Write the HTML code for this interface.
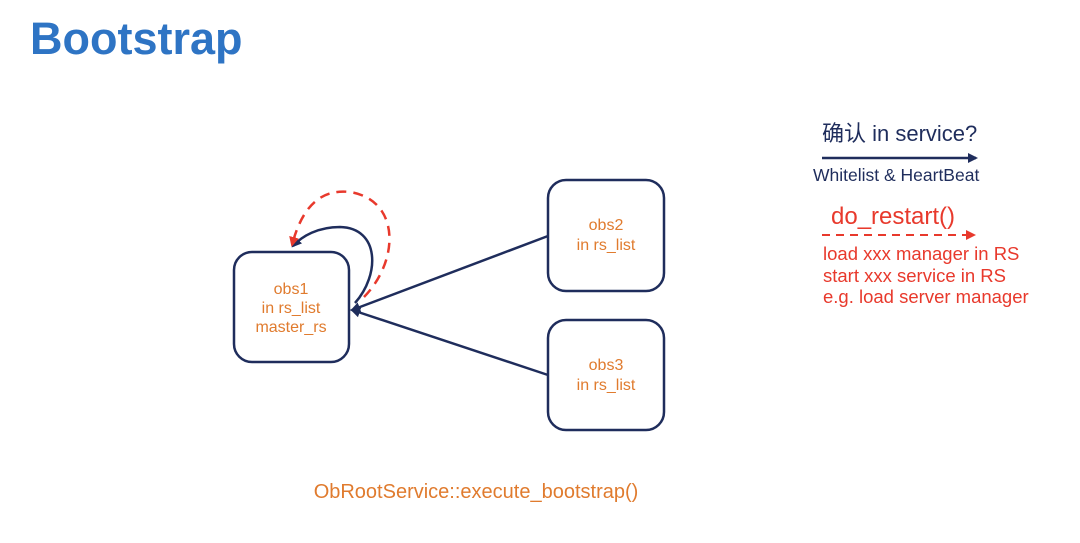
<!DOCTYPE html>
<html><head><meta charset="utf-8"><style>
body{margin:0;width:1080px;height:538px;background:#fff;overflow:hidden;font-family:"Liberation Sans","Noto Sans CJK SC",sans-serif;}
</style></head><body>
<svg width="1080" height="538" xmlns="http://www.w3.org/2000/svg" font-family="Liberation Sans, Noto Sans CJK SC, sans-serif">
<defs>
<marker id="b" markerWidth="10" markerHeight="10" refX="8" refY="5" orient="auto" markerUnits="userSpaceOnUse"><path d="M0,0 L10,5 L0,10 z" fill="#1f2d5c"/></marker>
<marker id="r" markerWidth="10" markerHeight="10" refX="8" refY="5" orient="auto" markerUnits="userSpaceOnUse"><path d="M0,0 L10,5 L0,10 z" fill="#e8392c"/></marker>
</defs>
<text x="30" y="54" font-size="45" font-weight="bold" fill="#2e74c4">Bootstrap</text>
<g fill="none" stroke="#1f2d5c" stroke-width="2.5">
<rect x="234" y="252" width="115" height="110" rx="18"/>
<rect x="548" y="180" width="116" height="111" rx="18"/>
<rect x="548" y="320" width="116" height="110" rx="18"/>
<line x1="548" y1="236" x2="352" y2="310" marker-end="url(#b)"/>
<line x1="548" y1="375" x2="352" y2="310" marker-end="url(#b)"/>
<path d="M355,303 C380,275 380,228 340,227 C318,227 302,236 293,246" marker-end="url(#b)"/>
</g>
<path d="M364,297 C400,260 400,200 350,192 C315,188 300,215 292,245" fill="none" stroke="#e8392c" stroke-width="2.5" stroke-dasharray="10,7" marker-end="url(#r)"/>
<g fill="#e07b2e" font-size="16" text-anchor="middle">
<text x="291" y="294">obs1</text><text x="291" y="313">in rs_list</text><text x="291" y="332">master_rs</text>
<text x="606" y="230">obs2</text><text x="606" y="250">in rs_list</text>
<text x="606" y="370">obs3</text><text x="606" y="390">in rs_list</text>
<text x="476" y="498" font-size="20">ObRootService::execute_bootstrap()</text>
</g>
<text x="822" y="141" font-size="22" fill="#1f2d5c">确认 in service?</text>
<line x1="822" y1="158" x2="976" y2="158" stroke="#1f2d5c" stroke-width="2.5" marker-end="url(#b)"/>
<text x="813" y="181" font-size="17.5" fill="#1f2d5c">Whitelist &amp; HeartBeat</text>
<text x="831" y="224" font-size="24" fill="#e8392c">do_restart()</text>
<line x1="822" y1="235" x2="974" y2="235" stroke="#e8392c" stroke-width="2" stroke-dasharray="8,6" marker-end="url(#r)"/>
<g font-size="18.5" fill="#e8392c">
<text x="823" y="260">load xxx manager in RS</text>
<text x="823" y="282">start xxx service in RS</text>
<text x="823" y="303">e.g. load server manager</text>
</g>
</svg>
</body></html>
